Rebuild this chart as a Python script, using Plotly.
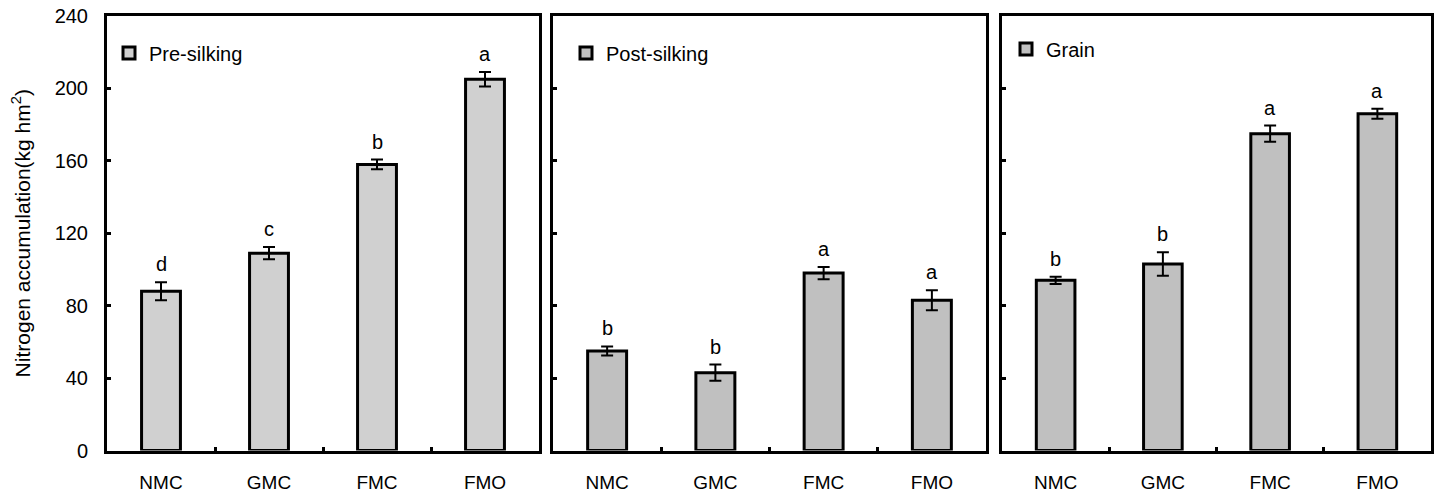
import plotly.graph_objects as go

categories = ["NMC", "GMC", "FMC", "FMO"]
panels = ["Pre-silking", "Post-silking", "Grain"]

pre_vals = [88, 109, 158, 205]
pre_err = [5, 3.4, 2.7, 4]
pre_letters = ["d", "c", "b", "a"]

post_vals = [55, 43, 98, 83]
post_err = [2.5, 4.5, 3.4, 5.5]
post_letters = ["b", "b", "a", "a"]

grain_vals = [94, 103, 175, 186]
grain_err = [2, 6.5, 4.5, 2.7]
grain_letters = ["b", "b", "a", "a"]

y_ticks = [0, 40, 80, 120, 160, 200, 240]

W, H = 1434, 494
FONT = "Liberation Sans, Arial, sans-serif"
px_domains = [(107, 539), (553, 986), (1002, 1431)]
y_dom = [1 - 450.5 / H, 1 - 16 / H]
fills = ["#d0d0d0", "#c0c0c0", "#c0c0c0"]
legend_pos = [(109, 53), (566, 53), (1006, 49)]

series = [
    (pre_vals, pre_err, pre_letters),
    (post_vals, post_err, post_letters),
    (grain_vals, grain_err, grain_letters),
]

fig = go.Figure()
annotations = []
for i, (vals, errs, letters) in enumerate(series):
    n = i + 1
    xa = "x" if n == 1 else f"x{n}"
    ya = "y" if n == 1 else f"y{n}"
    lg = "legend" if n == 1 else f"legend{n}"
    fig.add_trace(go.Bar(
        x=categories, y=vals, name=panels[i],
        xaxis=xa, yaxis=ya, legend=lg,
        width=0.36,
        marker=dict(color=fills[i], line=dict(color="black", width=3)),
        error_y=dict(type="data", array=errs, visible=True,
                     color="black", thickness=2, width=6),
    ))
    for c, v, e, t in zip(categories, vals, errs, letters):
        annotations.append(dict(
            x=c, y=v + e, xref=xa, yref=ya, text=t, showarrow=False,
            yanchor="middle", yshift=18,
            font=dict(family=FONT, size=20, color="black"),
        ))

layout = dict(
    width=W, height=H,
    margin=dict(l=0, r=0, t=0, b=0),
    paper_bgcolor="white", plot_bgcolor="white",
    font=dict(family=FONT, size=20, color="black"),
    annotations=annotations,
)

for i in range(3):
    n = i + 1
    xk = "xaxis" if n == 1 else f"xaxis{n}"
    yk = "yaxis" if n == 1 else f"yaxis{n}"
    d = px_domains[i]
    layout[xk] = dict(
        domain=[d[0] / W, d[1] / W],
        anchor="y" if n == 1 else f"y{n}",
        showline=True, mirror=True, linecolor="black", linewidth=3,
        ticks="inside", ticklen=4, tickwidth=3, tickcolor="black",
        tickson="boundaries", showgrid=False, zeroline=False,
        ticklabelstandoff=13,
        tickfont=dict(family=FONT, size=19, color="black"),
        automargin=False, fixedrange=True,
    )
    layout[yk] = dict(
        domain=y_dom,
        anchor="x" if n == 1 else f"x{n}",
        range=[0, 240], tickvals=y_ticks,
        showticklabels=(n == 1),
        showline=True, mirror=True, linecolor="black", linewidth=3,
        ticks="inside", ticklen=4, tickwidth=3, tickcolor="black",
        showgrid=False, zeroline=False,
        ticklabelstandoff=12,
        tickfont=dict(family=FONT, size=20, color="black"),
        automargin=False, fixedrange=True,
    )
    lx, ly = legend_pos[i]
    lk = "legend" if n == 1 else f"legend{n}"
    layout[lk] = dict(
        x=lx / W, y=1 - ly / H, xanchor="left", yanchor="middle",
        bgcolor="rgba(0,0,0,0)", borderwidth=0,
        font=dict(family=FONT, size=20, color="black"),
        itemwidth=30, tracegroupgap=0,
    )

layout["yaxis"]["title"] = dict(
    text="Nitrogen accumulation(kg hm<sup>2</sup>)",
    font=dict(family=FONT, size=21, color="black"), standoff=19,
)
layout["showlegend"] = True

fig.update_layout(**layout)
fig.write_html("out.html", config={"displayModeBar": False},
               post_script="document.body.style.margin='0';")
